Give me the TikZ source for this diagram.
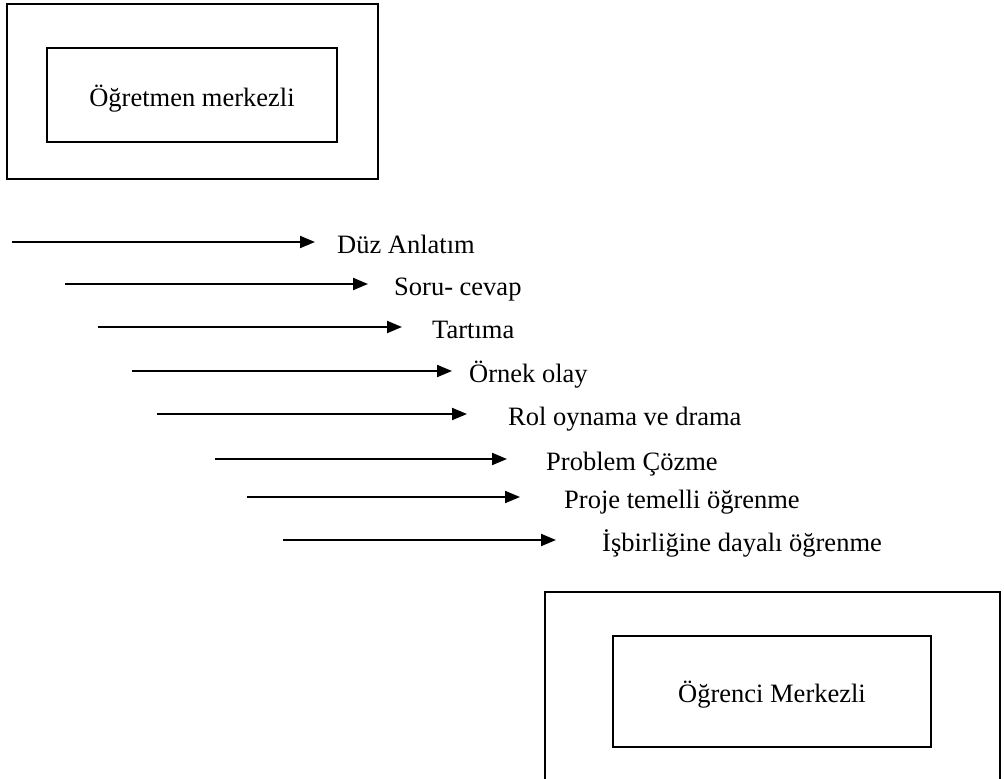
\documentclass[tikz,border=0pt]{standalone}
\usepackage{fontspec}
\setmainfont{Liberation Serif}
\usetikzlibrary{positioning,arrows.meta}
\tikzset{
  box/.style={draw, line width=2.5pt, inner sep=0pt},
  lbl/.style={inner sep=0pt, text height=22pt, text depth=0pt, font=\fontsize{26.5}{30}\selectfont},
  arr/.style={line width=2pt, -{Triangle[length=15pt,width=12pt]}}
}
\begin{document}
\begin{tikzpicture}[x=1pt,y=-1pt]
    \useasboundingbox (0,0) rectangle (1004,779);
    \clip (0,0) rectangle (1004,779);
    % teacher centred
    \node[box, minimum width=371pt, minimum height=175pt] (tout) at (192.5,91.5) {};
    \node[box, lbl, minimum width=290pt, minimum height=94pt] (tin) at (192,95) {Öğretmen merkezli};
    % student centred
    \node[box, minimum width=455pt, minimum height=228pt] (sout) at (772.5,706) {};
    \node[box, lbl, minimum width=318pt, minimum height=111pt] (sin) at (772,691.5) {Öğrenci Merkezli};
    % methods
    \coordinate (s1) at (12,242);  \coordinate (e1) at (315,242);
    \coordinate (s2) at (65,284);  \coordinate (e2) at (368,284);
    \coordinate (s3) at (98,327);  \coordinate (e3) at (402,327);
    \coordinate (s4) at (132,371); \coordinate (e4) at (452,371);
    \coordinate (s5) at (157,414); \coordinate (e5) at (467,414);
    \coordinate (s6) at (215,459); \coordinate (e6) at (507,459);
    \coordinate (s7) at (247,497); \coordinate (e7) at (520,497);
    \coordinate (s8) at (283,540); \coordinate (e8) at (556,540);
    \node[lbl, right=22pt of e1] (m1) {Düz Anlatım};
    \node[lbl, right=26pt of e2] (m2) {Soru- cevap};
    \node[lbl, right=30pt of e3] (m3) {Tartıma};
    \node[lbl, right=17pt of e4] (m4) {Örnek olay};
    \node[lbl, right=41pt of e5] (m5) {Rol oynama ve drama};
    \node[lbl, right=39pt of e6] (m6) {Problem Çözme};
    \node[lbl, right=44pt of e7] (m7) {Proje temelli öğrenme};
    \node[lbl, right=46pt of e8] (m8) {İşbirliğine dayalı öğrenme};
    \draw[arr] (s1) -- (e1);
    \draw[arr] (s2) -- (e2);
    \draw[arr] (s3) -- (e3);
    \draw[arr] (s4) -- (e4);
    \draw[arr] (s5) -- (e5);
    \draw[arr] (s6) -- (e6);
    \draw[arr] (s7) -- (e7);
    \draw[arr] (s8) -- (e8);
\end{tikzpicture}
\end{document}
